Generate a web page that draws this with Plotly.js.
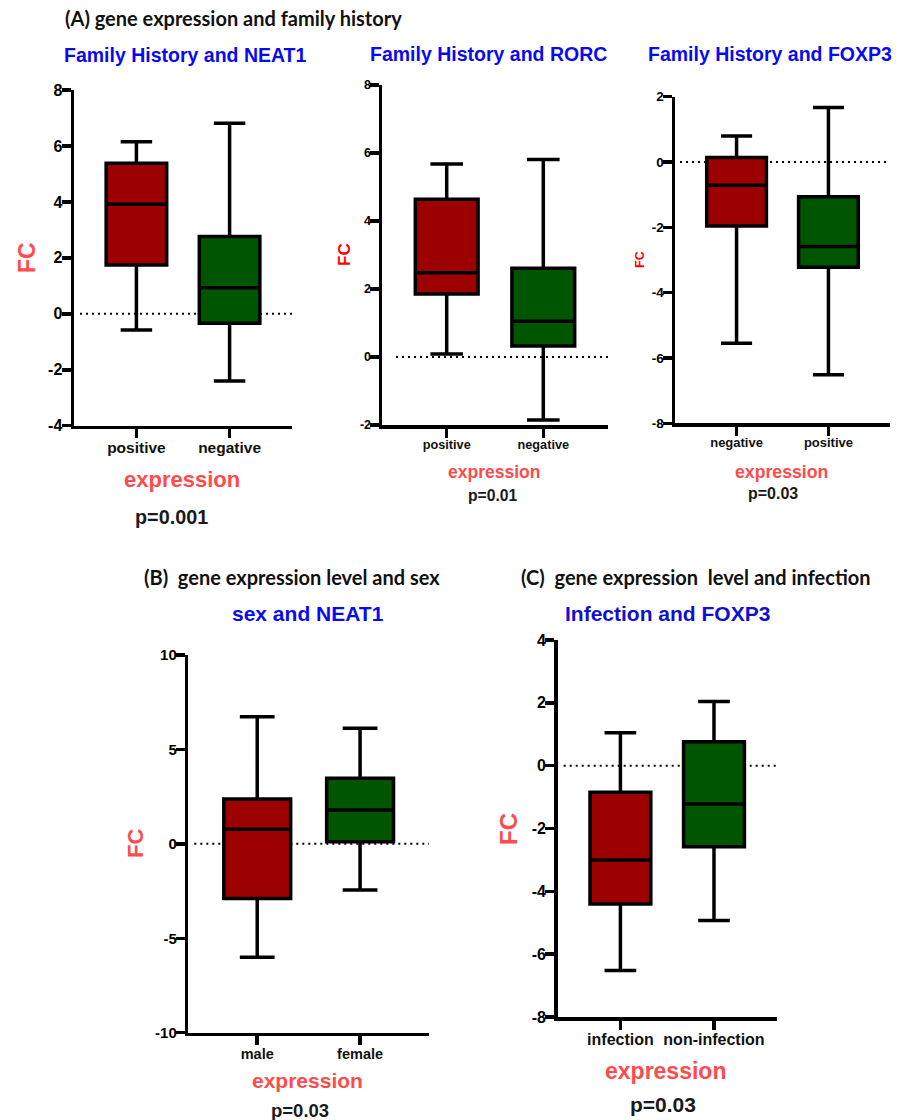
<!DOCTYPE html>
<html>
<head>
<meta charset="utf-8">
<script src="https://cdn.plot.ly/plotly-3.0.1.min.js"></script>
<style>html,body{margin:0;padding:0;background:#fff;}#chart{width:912px;height:1120px;}</style>
</head>
<body>
<div id="chart"></div>
<script>
// ---------- DATA ----------
// (A) Family history and NEAT1
const a1Cats = ['positive', 'negative'];
const a1Low = [-0.58, -2.40];
const a1Q1 = [1.74, -0.34];
const a1Median = [3.92, 0.93];
const a1Q3 = [5.38, 2.76];
const a1High = [6.15, 6.81];
const a1TickVals = [-4, -2, 0, 2, 4, 6, 8];
const a1TickText = ['-4', '-2', '0', '2', '4', '6', '8'];

// (A) Family history and RORC
const a2Cats = ['positive', 'negative'];
const a2Low = [0.09, -1.85];
const a2Q1 = [1.85, 0.32];
const a2Median = [2.48, 1.05];
const a2Q3 = [4.64, 2.61];
const a2High = [5.68, 5.81];
const a2TickVals = [-2, 0, 2, 4, 6, 8];
const a2TickText = ['-2', '0', '2', '4', '6', '8'];

// (A) Family history and FOXP3
const a3Cats = ['negative', 'positive'];
const a3Low = [-5.55, -6.51];
const a3Q1 = [-1.96, -3.22];
const a3Median = [-0.71, -2.59];
const a3Q3 = [0.14, -1.06];
const a3High = [0.80, 1.67];
const a3TickVals = [-8, -6, -4, -2, 0, 2];
const a3TickText = ['-8', '-6', '-4', '-2', '0', '2'];

// (B) sex and NEAT1
const bCats = ['male', 'female'];
const bLow = [-6.01, -2.45];
const bQ1 = [-2.89, 0.11];
const bMedian = [0.77, 1.79];
const bQ3 = [2.37, 3.47];
const bHigh = [6.73, 6.12];
const bTickVals = [-10, -5, 0, 5, 10];
const bTickText = ['-10', '-5', '0', '5', '10'];

// (C) Infection and FOXP3
const cCats = ['infection', 'non-infection'];
const cLow = [-6.52, -4.93];
const cQ1 = [-4.40, -2.58];
const cMedian = [-3.00, -1.22];
const cQ3 = [-0.85, 0.76];
const cHigh = [1.05, 2.04];
const cTickVals = [-8, -6, -4, -2, 0, 2, 4];
const cTickText = ['-8', '-6', '-4', '-2', '0', '2', '4'];

// ---------- STYLE / LAYOUT ----------
const W = 912, H = 1120;
const px = x => x / W;
const py = y => 1 - y / H;
const ARIAL = 'Liberation Sans, Arial, sans-serif';
const CALIBRI = 'Lato, Carlito, Calibri, sans-serif';
const boxColors = ['#9c0000', '#005600'];
const LIGHTRED = '#ff4b4b';
const BLUE = '#0a0af0';

const panels = [
  {id: '', cats: a1Cats, low: a1Low, q1: a1Q1, med: a1Median, q3: a1Q3, high: a1High,
   tv: a1TickVals, tt: a1TickText, range: [-4, 8],
   xpx: [74, 292], ypx: [90, 425.7], ytf: 16, xtf: 15.5, dot0: 6},
  {id: '2', cats: a2Cats, low: a2Low, q1: a2Q1, med: a2Median, q3: a2Q3, high: a2High,
   tv: a2TickVals, tt: a2TickText, range: [-2, 8],
   xpx: [382, 608], ypx: [85, 425], ytf: 12.5, xtf: 12.7, dot0: 14},
  {id: '3', cats: a3Cats, low: a3Low, q1: a3Q1, med: a3Median, q3: a3Q3, high: a3High,
   tv: a3TickVals, tt: a3TickText, range: [-8, 2],
   xpx: [675, 890], ypx: [96.7, 423.3], ytf: 13.5, xtf: 13, dot0: 5},
  {id: '4', cats: bCats, low: bLow, q1: bQ1, med: bMedian, q3: bQ3, high: bHigh,
   tv: bTickVals, tt: bTickText, range: [-10, 10],
   xpx: [188.3, 429], ypx: [655, 1032.7], ytf: 15, xtf: 14.5, dot0: 6},
  {id: '5', cats: cCats, low: cLow, q1: cQ1, med: cMedian, q3: cQ3, high: cHigh,
   tv: cTickVals, tt: cTickText, range: [-8, 4],
   xpx: [557.7, 776.7], ypx: [640, 1017], ytf: 16, xtf: 16, dot0: 6}
];

const data = [];
const layout = {
  width: W, height: H,
  margin: {l: 0, r: 0, t: 0, b: 0},
  paper_bgcolor: '#ffffff', plot_bgcolor: 'rgba(0,0,0,0)',
  showlegend: false,
  shapes: [], annotations: []
};

panels.forEach(p => {
  const xa = 'x' + p.id, ya = 'y' + p.id;
  p.cats.forEach((c, i) => {
    data.push({
      type: 'box', x: [c], q1: [p.q1[i]], median: [p.med[i]], q3: [p.q3[i]],
      lowerfence: [p.low[i]], upperfence: [p.high[i]],
      fillcolor: boxColors[i], line: {color: '#000000', width: 3.5},
      whiskerwidth: 0.52, width: 0.65, boxpoints: false,
      xaxis: xa, yaxis: ya, showlegend: false, hoverinfo: 'skip'
    });
  });
  const w = p.xpx[1] - p.xpx[0];
  layout['xaxis' + p.id] = {
    domain: [px(p.xpx[0]), px(p.xpx[1])], anchor: ya,
    type: 'category', categoryorder: 'array', categoryarray: p.cats,
    tickmode: 'array', tickvals: p.cats, ticktext: p.cats.map(s => '<b>' + s + '</b>'),
    range: [-0.67, 1.67], fixedrange: true,
    showline: true, linecolor: '#000', linewidth: 3.5,
    ticks: 'outside', ticklen: 9, tickwidth: 3.5, tickcolor: '#000',
    ticklabelstandoff: -4,
    tickfont: {family: ARIAL, size: p.xtf, color: '#111', weight: 700},
    showgrid: false, zeroline: false
  };
  layout['yaxis' + p.id] = {
    domain: [py(p.ypx[1]), py(p.ypx[0])], anchor: xa,
    range: p.range, fixedrange: true,
    tickmode: 'array', tickvals: p.tv, ticktext: p.tt.map(s => '<b>' + s + '</b>'),
    showline: true, linecolor: '#000', linewidth: 3.5,
    ticks: 'outside', ticklen: 9, tickwidth: 3.5, tickcolor: '#000',
    ticklabelstandoff: -4,
    tickfont: {family: ARIAL, size: p.ytf, color: '#000', weight: 700},
    showgrid: false, zeroline: false
  };
  layout.shapes.push({
    type: 'line', xref: xa + ' domain', yref: ya,
    x0: p.dot0 / w, x1: 1, y0: 0, y1: 0,
    line: {color: '#000', width: 2, dash: '2px,4px'}, layer: 'below'
  });
});

function ann(text, x, y, size, color, family, opts) {
  layout.annotations.push(Object.assign({
    text: text, x: px(x), y: py(y), xref: 'paper', yref: 'paper',
    xanchor: 'center', yanchor: 'middle', showarrow: false,
    font: {family: family || ARIAL, size: size, color: color, weight: 700}
  }, opts || {}));
}

// section headings
ann('(A) gene expression and family history', 63, 18.5, 20, '#111', CALIBRI, {xanchor: 'left'});
ann('(B)\u00a0 gene expression level and sex', 141.7, 577, 20, '#111', CALIBRI, {xanchor: 'left'});
ann('(C)\u00a0 gene expression\u00a0 level and infection', 519.3, 577, 20, '#111', CALIBRI, {xanchor: 'left'});

// panel titles
ann('Family History and NEAT1', 185, 55, 19.5, BLUE);
ann('Family History and RORC', 488, 54, 19.5, BLUE);
ann('Family History and FOXP3', 770, 54, 19.5, BLUE);
ann('sex and NEAT1', 307.5, 613, 21, BLUE);
ann('Infection and FOXP3', 667, 613, 21, '#1010d0');

// y titles
ann('FC', 27, 258, 23, LIGHTRED, ARIAL, {textangle: -90});
ann('FC', 345, 255, 17, '#ff0000', ARIAL, {textangle: -90});
ann('FC', 640, 260, 12.5, '#ff0000', ARIAL, {textangle: -90});
ann('FC', 135, 844, 22, LIGHTRED, ARIAL, {textangle: -90});
ann('FC', 508, 829, 24, LIGHTRED, ARIAL, {textangle: -90});

// x titles
ann('expression', 182.3, 479.3, 22, LIGHTRED);
ann('expression', 494, 471.7, 17.5, LIGHTRED);
ann('expression', 781, 471.7, 17.7, LIGHTRED);
ann('expression', 307, 1080.7, 21, LIGHTRED);
ann('expression', 665.6, 1070.7, 23, LIGHTRED);

// p values
ann('p=0.001', 171.7, 517, 19.8, '#1a1a1a');
ann('p=0.01', 493, 495, 15.7, '#1a1a1a');
ann('p=0.03', 772.7, 493.3, 16, '#1a1a1a');
ann('p=0.03', 299.5, 1110, 18.5, '#1a1a1a');
ann('p=0.03', 662.5, 1104, 21, '#1a1a1a');

Plotly.newPlot('chart', data, layout, {displayModeBar: false, staticPlot: true});
</script>
</body>
</html>
